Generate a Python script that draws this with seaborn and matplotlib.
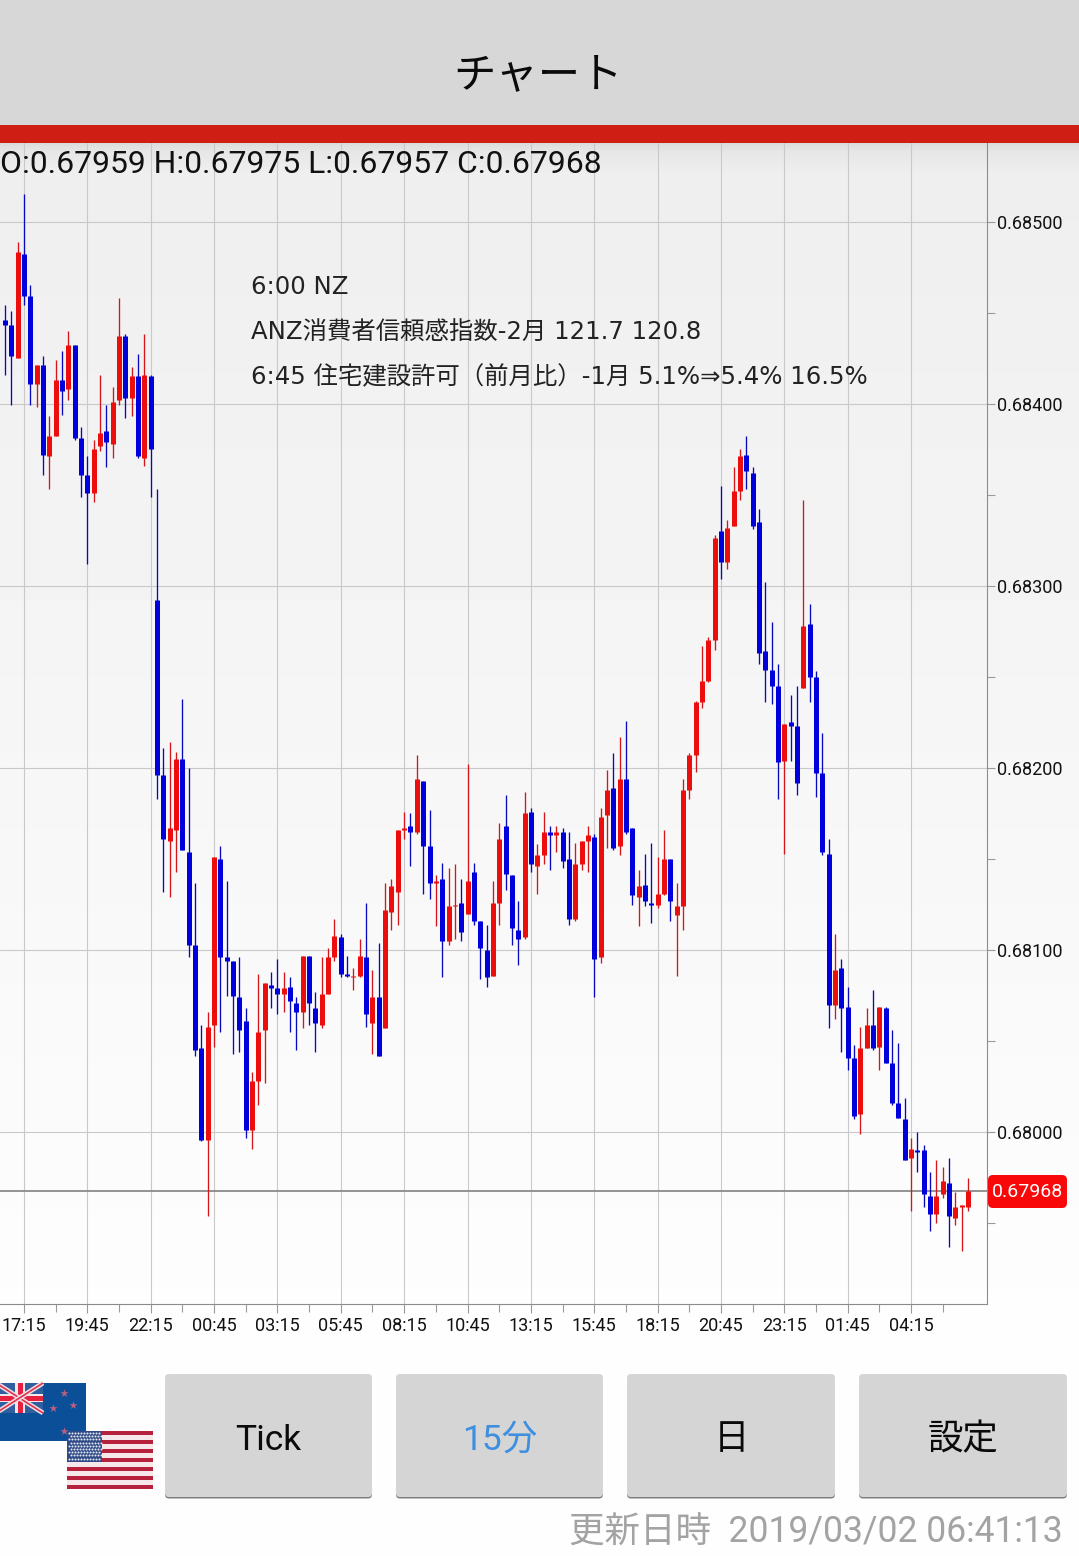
import numpy as np
import pandas as pd
import matplotlib.pyplot as plt
import seaborn as sns
from matplotlib.patches import Rectangle, FancyBboxPatch
from matplotlib.ticker import FormatStrFormatter, FixedLocator

# NZD/USD 15 min, prices in 1/100000. bar 0 = 17:15
opens = [68396,68446,68443,68425,68482,68459,68411,68421,68371,68382,
         68413,68408,68432,68381,68361,68351,68377,68385,68378,68402,
         68437,68403,68415,68370,68415,68292,68196,68160,68166,68205,
         68154,68103,68046,67996,68059,68150,68096,68094,68074,68061,
         68001,68028,68056,68081,68079,68076,68080,68071,68066,68097,
         68068,68059,68076,68096,68107,68087,68085,68086,68096,68060,
         68074,68057,68121,68132,68166,68168,68165,68193,68157,68137,
         68139,68105,68124,68126,68120,68143,68116,68100,68086,68126,
         68168,68141,68111,68107,68176,68146,68152,68165,68163,68165,
         68150,68117,68147,68160,68162,68096,68174,68189,68157,68194,
         68167,68129,68136,68126,68125,68131,68150,68119,68124,68188,
         68207,68236,68248,68270,68330,68313,68333,68352,68372,68362,
         68335,68264,68254,68245,68204,68225,68223,68244,68279,68250,
         68197,68153,68070,68090,68069,68041,68010,68046,68059,68047,
         68068,68038,68016,68007,67986,67990,67990,67965,67955,67966,
         67972,67953,67959,67959]
highs = [68447,68454,68451,68489,68515,68465,68421,68426,68393,68424,
         68429,68440,68432,68387,68371,68380,68416,68399,68409,68458,
         68438,68420,68427,68438,68416,68353,68211,68214,68209,68238,
         68200,68137,68059,68066,68151,68157,68138,68094,68096,68068,
         68033,68087,68082,68088,68095,68088,68085,68074,68097,68097,
         68077,68096,68101,68117,68109,68097,68090,68106,68126,68089,
         68104,68137,68139,68166,68176,68175,68207,68193,68177,68141,
         68148,68145,68147,68139,68202,68148,68116,68114,68138,68170,
         68185,68141,68127,68187,68178,68158,68176,68168,68168,68167,
         68165,68159,68160,68168,68164,68178,68199,68208,68217,68226,
         68167,68144,68153,68159,68151,68166,68150,68137,68194,68208,
         68237,68267,68272,68328,68355,68336,68365,68375,68382,68365,
         68342,68302,68280,68257,68224,68240,68245,68347,68290,68253,
         68219,68161,68109,68095,68080,68048,68058,68068,68078,68069,
         68069,68056,68049,68019,67997,68000,67993,67978,67985,67981,
         67986,67967,67960,67975]
lows = [68395,68416,68399,68425,68454,68399,68398,68361,68353,68382,
        68394,68402,68380,68349,68312,68346,68374,68365,68370,68399,
        68392,68393,68370,68366,68349,68183,68132,68129,68143,68155,
        68096,68042,67995,67954,68047,68055,68075,68043,68044,67997,
        67991,68015,68027,68068,68065,68066,68055,68045,68057,68059,
        68044,68057,68076,68094,68085,68085,68078,68085,68058,68043,
        68042,68057,68111,68114,68161,68146,68164,68131,68128,68113,
        68085,68103,68106,68105,68120,68114,68084,68080,68086,68114,
        68133,68103,68092,68106,68143,68131,68147,68144,68154,68145,
        68114,68116,68144,68143,68074,68093,68156,68155,68152,68164,
        68125,68113,68124,68115,68123,68130,68116,68086,68111,68183,
        68198,68233,68247,68265,68304,68309,68333,68347,68353,68331,
        68257,68236,68235,68183,68153,68204,68185,68244,68236,68184,
        68152,68057,68062,68044,68034,68007,67999,68046,68045,68034,
        68038,68015,68008,67985,67957,67978,67959,67946,67950,67964,
        67937,67949,67935,67957]
closes = [68446,68443,68426,68483,68459,68411,68421,68372,68382,68413,
          68407,68432,68381,68361,68351,68375,68384,68379,68401,68437,
          68403,68415,68371,68416,68375,68196,68161,68167,68205,68155,
          68103,68045,67996,68058,68151,68096,68094,68075,68056,68001,
          68028,68055,68082,68079,68076,68079,68072,68066,68097,68071,
          68060,68076,68096,68108,68087,68086,68086,68097,68065,68074,
          68042,68122,68135,68166,68167,68165,68194,68157,68137,68138,
          68105,68124,68125,68110,68138,68116,68101,68085,68126,68161,
          68142,68112,68106,68175,68147,68152,68165,68163,68165,68149,
          68117,68147,68160,68163,68095,68173,68188,68156,68194,68165,
          68130,68135,68127,68125,68131,68150,68127,68124,68188,68207,
          68236,68248,68270,68326,68313,68332,68352,68371,68363,68333,
          68263,68254,68245,68203,68224,68223,68192,68278,68250,68197,
          68154,68070,68089,68068,68041,68009,68046,68059,68046,68069,
          68038,68016,68008,67985,67991,67989,67966,67955,67965,67973,
          67954,67959,67960,67968]
first_bar = -4

time_labels = ['17:15','19:45','22:15','00:45','03:15','05:45','08:15','10:45',
               '13:15','15:45','18:15','20:45','23:15','01:45','04:15']
last_price = 0.67968
price_ticks = [0.680, 0.681, 0.682, 0.683, 0.684, 0.685]
ohlc_text = 'O:0.67959 H:0.67975 L:0.67957 C:0.67968'
news_lines = ['6:00 NZ', 'ANZ消費者信頼感指数-2月 121.7 120.8',
              '6:45 住宅建設許可（前月比）-1月 5.1%⇒5.4% 16.5%']
button_labels = ['Tick', '15分', '日', '設定']
updated_text = '更新日時  2019/03/02 06:41:13'

sns.set_theme(style='white')
plt.rcParams['font.family'] = ['Roboto', 'Noto Sans CJK JP', 'DejaVu Sans']

W, H = 1079, 1556
fig = plt.figure(figsize=(W / 100, H / 100), dpi=100)

# background layer in pixel coordinates
ui = fig.add_axes([0, 0, 1, 1], zorder=0)
rows = np.arange(H)
shade = np.interp(rows, [143, 150, 172, 1340, 1556], [0.86, 0.90, 0.935, 0.995, 0.995])
ui.imshow(shade[:, None], extent=(0, W, H, 0), aspect='auto', cmap='gray', vmin=0, vmax=1)
ui.set_xlim(0, W)
ui.set_ylim(H, 0)
ui.axis('off')
ui.add_patch(Rectangle((0, 0), W, 125, color='#d7d7d7', lw=0))
ui.add_patch(Rectangle((0, 125), W, 18, color='#cf1f14', lw=0))

# chart
left, right, top, bottom = 0, 987, 143, 1304
ax = fig.add_axes([left / W, 1 - bottom / H, (right - left) / W, (bottom - top) / H], zorder=1)
ax.patch.set_alpha(0)

candles = pd.DataFrame({'open': opens, 'high': highs, 'low': lows, 'close': closes})
candles['bar'] = np.arange(len(candles)) + first_bar
candles['side'] = np.where(candles['close'] >= candles['open'], 'up', 'down')
wicks = candles.melt(id_vars=['bar', 'side'], value_vars=['high', 'low'], value_name='price')
bodies = candles.melt(id_vars=['bar', 'side'], value_vars=['open', 'close'], value_name='price')
wicks['price'] /= 1e5
bodies['price'] /= 1e5

sns.lineplot(data=wicks, x='bar', y='price', hue='side', units='bar', estimator=None, sort=False,
             palette={'up': '#d2161a', 'down': '#0808bc'}, linewidth=0.95, legend=False,
             solid_capstyle='butt', ax=ax, zorder=3)
sns.lineplot(data=bodies, x='bar', y='price', hue='side', units='bar', estimator=None, sort=False,
             palette={'up': '#ec0d0d', 'down': '#0000dc'}, linewidth=3.6, legend=False,
             solid_capstyle='butt', ax=ax, zorder=4)

ax.set_xlim(-3.788, 151.99)
ax.set_ylim(0.679057, 0.685431)
ax.set_xlabel('')
ax.set_ylabel('')

major_bars = np.arange(len(time_labels)) * 10
ax.set_xticks(major_bars)
ax.set_xticklabels(time_labels)
ax.xaxis.set_minor_locator(FixedLocator(major_bars + 5))
ax.yaxis.tick_right()
ax.set_yticks(price_ticks)
ax.yaxis.set_major_formatter(FormatStrFormatter('%.5f'))
ax.yaxis.set_minor_locator(FixedLocator([p + 0.0005 for p in price_ticks] + [0.6795]))
ax.grid(True, which='major', color='#c9c9c9', lw=0.8)
ax.set_axisbelow(True)
ax.tick_params(axis='x', which='major', length=6.5, width=0.8, color='#9a9a9a', pad=3,
               labelsize=13, labelcolor='#111111', bottom=True)
ax.tick_params(axis='x', which='minor', length=5.5, width=0.8, color='#9a9a9a', bottom=True)
ax.tick_params(axis='y', which='major', length=6, width=0.8, color='#9a9a9a', pad=1.5,
               labelsize=13, labelcolor='#111111', right=True)
ax.tick_params(axis='y', which='minor', length=6, width=0.8, color='#9a9a9a', right=True)
for name, spine in ax.spines.items():
    spine.set_visible(name in ('right', 'bottom'))
    spine.set_color('#8c8c8c')
    spine.set_linewidth(0.8)

ax.axhline(last_price, color='#8a8a8a', lw=1.3, zorder=2)

# everything else on top, again in pixels
top_layer = fig.add_axes([0, 0, 1, 1], zorder=2)
top_layer.patch.set_alpha(0)
top_layer.set_xlim(0, W)
top_layer.set_ylim(H, 0)
top_layer.axis('off')

top_layer.text(538, 76, 'チャート', ha='center', va='center', fontsize=30.5, color='#0a0a0a')
top_layer.text(0, 164, ohlc_text, ha='left', va='center', fontsize=22.97, color='#111111')
news_font = ['DejaVu Sans', 'Noto Sans CJK JP']
for line, y in zip(news_lines, [286.5, 332.5, 377]):
    top_layer.text(251, y, line, ha='left', va='center', fontsize=17.6, color='#222222', family=news_font)

top_layer.add_patch(FancyBboxPatch((988, 1175), 79, 33, boxstyle='round,pad=0,rounding_size=5',
                                   fc='#f80808', ec='none'))
top_layer.text(1027.5, 1192, f'{last_price:.5f}', ha='center', va='center', fontsize=14, color='white')

# buttons
button_x = [(165, 372), (396, 603), (627, 835), (859, 1067)]
button_colors = ['#0a0a0a', '#3f8fe0', '#0a0a0a', '#0a0a0a']
for (x0, x1), label, col in zip(button_x, button_labels, button_colors):
    top_layer.add_patch(FancyBboxPatch((x0, 1376), x1 - x0, 122.5, boxstyle='round,pad=0,rounding_size=4',
                                       fc='#7e7e7e', ec='none'))
    top_layer.add_patch(FancyBboxPatch((x0, 1374), x1 - x0, 123, boxstyle='round,pad=0,rounding_size=4',
                                       fc='#d5d5d5', ec='none'))
    top_layer.text((x0 + x1) / 2, 1440, label, ha='center', va='center', fontsize=25.5, color=col)

top_layer.text(1063, 1533, updated_text, ha='right', va='center', fontsize=25.6, color='#a3a3a3')

# NZ flag
top_layer.add_patch(Rectangle((0, 1383), 86, 58, color='#0b4f98', lw=0))
top_layer.add_patch(Rectangle((0, 1383), 43, 30, color='#2f5f9f', lw=0))
for a, b in [((-4, 1383), (43, 1413)), ((43, 1383), (-4, 1413))]:
    top_layer.plot([a[0], b[0]], [a[1], b[1]], color='#f0dfe4', lw=3.4, solid_capstyle='butt')
    top_layer.plot([a[0], b[0]], [a[1], b[1]], color='#e0344f', lw=1.2, solid_capstyle='butt')
top_layer.add_patch(Rectangle((0, 1394), 43, 8, color='#f2e6ea', lw=0))
top_layer.add_patch(Rectangle((15, 1383), 10, 30, color='#f2e6ea', lw=0))
top_layer.add_patch(Rectangle((0, 1395.5), 43, 5, color='#e8203f', lw=0))
top_layer.add_patch(Rectangle((17.5, 1383), 5, 30, color='#e8203f', lw=0))
for sx, sy in [(64, 1393), (53, 1408), (73, 1405), (64, 1431)]:
    top_layer.scatter([sx], [sy], s=38, marker='*', color='#b8607e', lw=0, zorder=3)

# US flag
for k in range(13):
    top_layer.add_patch(Rectangle((67, 1431 + k * 58 / 13), 86, 58 / 13, lw=0, zorder=4,
                                  color='#b5203c' if k % 2 == 0 else '#f6e8ea'))
top_layer.add_patch(Rectangle((67, 1431), 35, 31, color='#2f4a86', lw=0, zorder=5))
for row in range(9):
    xs = np.arange(69 + (row % 2) * 1.5, 101, 3)
    top_layer.scatter(xs, np.full(len(xs), 1433 + row * 3.2), s=2.2, color='#dfe4f0', lw=0, zorder=6)

fig.savefig('out.png', dpi=100)
